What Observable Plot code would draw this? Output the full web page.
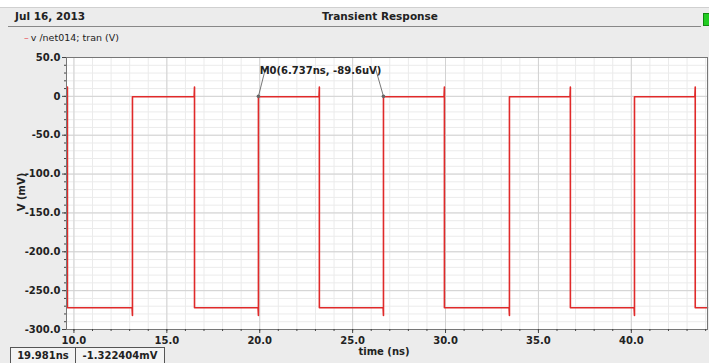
<!DOCTYPE html>
<html>
<head>
<meta charset="utf-8">
<script src="https://cdn.jsdelivr.net/npm/d3@7"></script>
<script src="https://cdn.jsdelivr.net/npm/@observablehq/plot@0.6"></script>
<style>
  html, body { margin: 0; padding: 0; }
  body { width: 709px; height: 363px; position: relative; overflow: hidden; background: #ffffff;
         font-family: "DejaVu Sans", sans-serif; }
  #panel { position: absolute; left: 0; top: 7px; width: 709px; height: 356px; background: #ececec;
           border-top: 1px solid #d0d0d0; }
  .abs { position: absolute; white-space: nowrap; color: #222; }
  #date { left: 15px; top: 10px; font-size: 10.5px; font-weight: bold; }
  #title { left: 380px; top: 10px; transform: translateX(-50%); font-size: 10.5px; font-weight: bold; }
  #hline { position: absolute; left: 8px; top: 26px; width: 693px; height: 1px; background: #888; }
  #green { position: absolute; left: 703px; top: 13px; width: 6px; height: 11px; background: #22cc22; border: 1px solid #118811; }
  #legend { left: 24px; top: 32px; font-size: 9.5px; }
  #legend .dash { color: #e8505a; margin-right: 2px; }
  #chart { position: absolute; left: 0; top: 45px; }
  #ylab { left: 21px; top: 192px; transform: translate(-50%, -50%) rotate(-90deg); font-size: 10px; font-weight: bold; }
  #xlab { left: 384px; top: 346px; transform: translateX(-50%); font-size: 10px; font-weight: bold; }
  .box { position: absolute; top: 347px; height: 15px; border: 1px solid #555; background: #f4f4f4;
         font-size: 10px; font-weight: bold; line-height: 15px; text-align: center; color: #222; }
</style>
</head>
<body>
<div id="panel"></div>
<div class="abs" id="date">Jul 16, 2013</div>
<div class="abs" id="title">Transient Response</div>
<div id="hline"></div>
<div id="green"></div>
<div class="abs" id="legend"><span class="dash">–</span>v /net014; tran (V)</div>
<div id="chart"></div>
<div class="abs" id="ylab">V (mV)</div>
<div class="abs" id="xlab">time (ns)</div>
<div class="box" style="left:10px; width:64px;">19.981ns</div>
<div class="box" style="left:75px; width:88px;">-1.322404mV</div>
<script>
// ---- data ----
const riseTimes = [13.15, 19.93, 26.66, 33.44, 40.17];          // ns
const fallTimes = [9.65, 16.49, 23.21, 29.94, 36.72, 43.44];    // ns
const highLevel = -0.5;      // mV
const lowLevel = -272;       // mV
const fallSpike = 12;        // mV, glitch just before each falling edge
const riseSpike = -282;      // mV, glitch just before each rising edge
const tStart = 9.6, tEnd = 44.1;
const xMajorTicks = [10, 15, 20, 25, 30, 35, 40];
const yMajorTicks = [50, 0, -50, -100, -150, -200, -250, -300];
const xMinorTicks = d3.range(10, 45, 1);
const yMinorTicks = d3.range(-300, 51, 10);
const markerTimes = [19.93, 26.66];
const markerLabel = "M0(6.737ns, -89.6uV)";

// ---- build waveform from the edges ----
const events = [
  ...riseTimes.map(t => ({t, type: "rise"})),
  ...fallTimes.map(t => ({t, type: "fall"}))
].sort((a, b) => a.t - b.t);
const wave = [{t: tStart, v: highLevel}];
for (const e of events) {
  if (e.type === "fall") {
    wave.push({t: e.t - 0.02, v: highLevel}, {t: e.t, v: fallSpike}, {t: e.t, v: lowLevel});
  } else {
    wave.push({t: e.t - 0.02, v: lowLevel}, {t: e.t, v: riseSpike}, {t: e.t, v: highLevel});
  }
}
wave.push({t: tEnd, v: lowLevel});

const labelY = 33;
const links = [
  {x1: markerTimes[0], y1: 0, x2: 20.31, y2: 36},
  {x1: markerTimes[1], y1: 0, x2: 26.23, y2: 36}
];

const font = "DejaVu Sans, sans-serif";
const chart = Plot.plot({
  width: 709,
  height: 318,
  marginLeft: 66,
  marginRight: 2,
  marginTop: 12,
  marginBottom: 34,
  x: {domain: [tStart, tEnd]},
  y: {domain: [-300, 50]},
  style: {background: "transparent", fontFamily: font, fontSize: "10px", color: "#222"},
  marks: [
    Plot.frame({fill: "white", stroke: null}),
    Plot.ruleX(xMinorTicks, {stroke: "#ebebeb", strokeWidth: 1}),
    Plot.ruleY(yMinorTicks, {stroke: "#ebebeb", strokeWidth: 1}),
    Plot.ruleX(xMajorTicks, {stroke: "#d2d2d2", strokeWidth: 1}),
    Plot.ruleY(yMajorTicks, {stroke: "#d2d2d2", strokeWidth: 1}),
    Plot.line(wave, {x: "t", y: "v", stroke: "#e02a2a", strokeWidth: 1.6, curve: "linear"}),
    Plot.link(links, {x1: "x1", y1: "y1", x2: "x2", y2: "y2", stroke: "#555", strokeWidth: 0.8}),
    Plot.dot(markerTimes, {x: d => d, y: () => 0, r: 1.8, fill: "#666", stroke: null}),
    Plot.text([markerLabel], {x: 23.27, y: labelY, text: d => d, fontWeight: "bold", fontSize: 10, fill: "#222"}),
    Plot.frame({stroke: "#777"}),
    Plot.axisY(yMinorTicks, {tickSize: 2, text: null, stroke: "#444"}),
    Plot.axisY(yMajorTicks, {tickSize: 4, tickPadding: 2, label: null, fontWeight: "bold", stroke: "#444",
      tickFormat: d => d === 0 ? "0" : d.toFixed(1)}),
    Plot.axisX(xMinorTicks, {tickSize: 2, text: null, stroke: "#444"}),
    Plot.axisX(xMajorTicks, {tickSize: 4, tickPadding: 3, label: null, fontWeight: "bold", stroke: "#444",
      tickFormat: d => d.toFixed(1)})
  ]
});
document.getElementById("chart").appendChild(chart);
</script>
</body>
</html>
